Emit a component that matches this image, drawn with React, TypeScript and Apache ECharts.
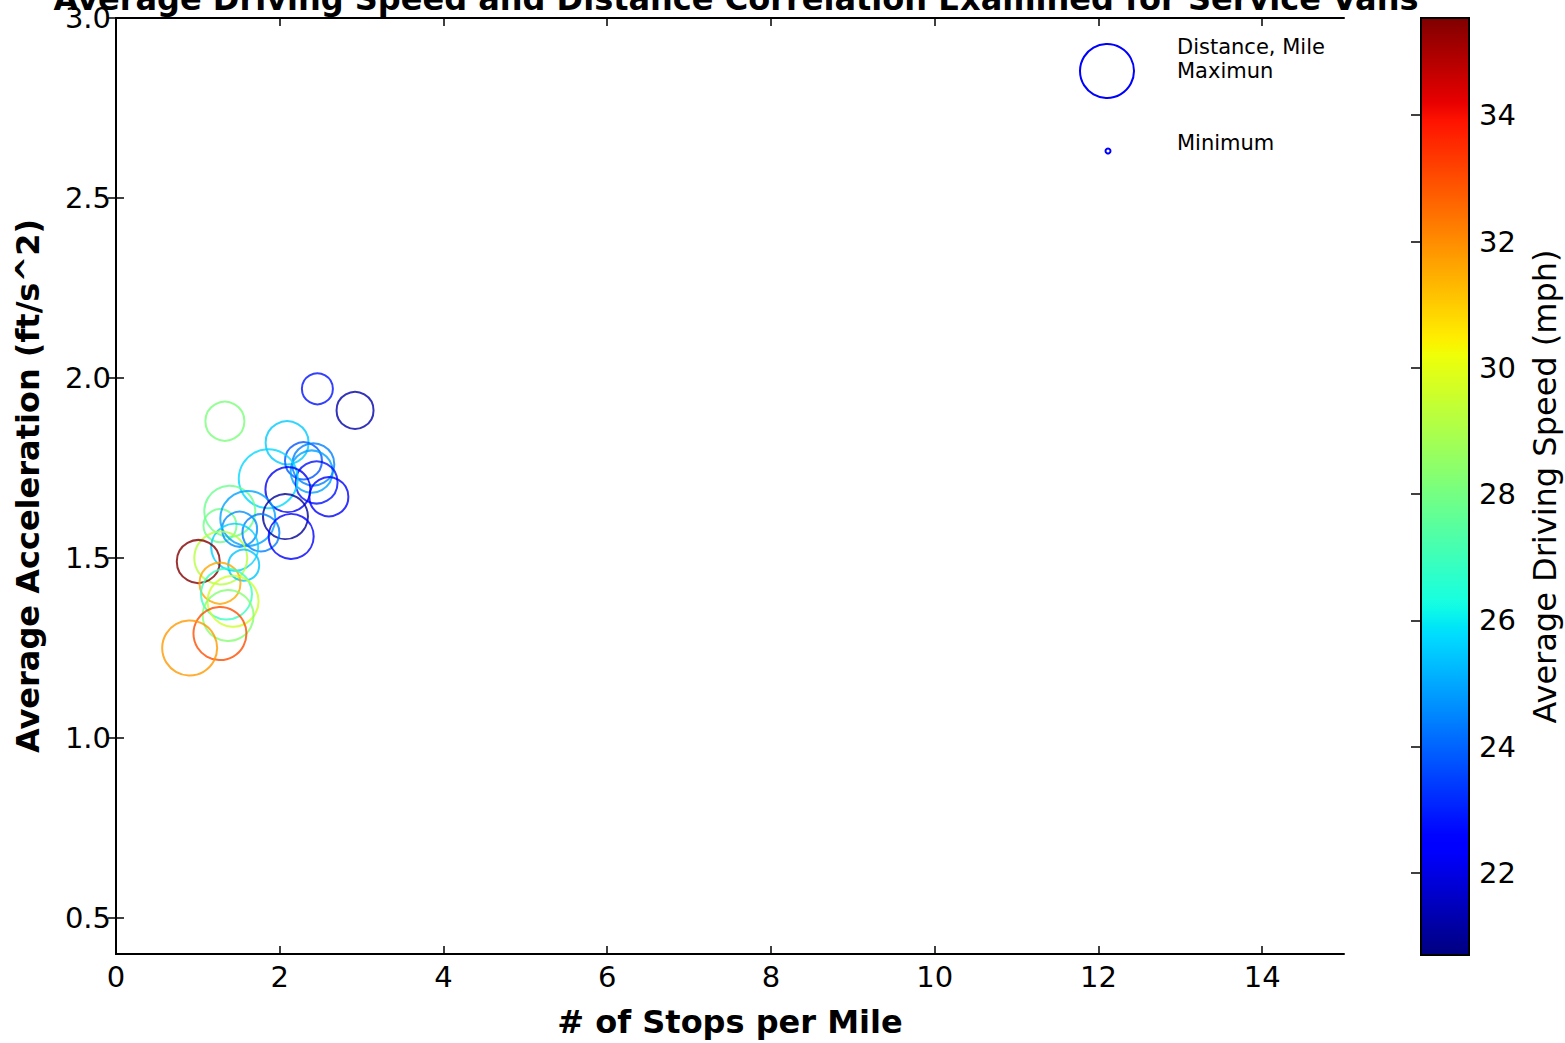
import React, { useEffect, useRef } from "react";
import * as echarts from "echarts";

// ---- data ----
const stopsPerMile = [2.46, 2.92, 1.33, 2.09, 2.29, 2.41, 2.39, 2.45, 2.60, 1.86, 2.10, 1.39, 1.27, 1.61, 2.07, 1.77, 1.51, 2.14, 1.45, 1.28, 1.56, 1.005, 1.27, 1.35, 1.43, 1.37, 1.27, 0.90];
const avgAccel = [1.97, 1.91, 1.88, 1.82, 1.77, 1.76, 1.74, 1.71, 1.67, 1.72, 1.69, 1.63, 1.59, 1.61, 1.615, 1.57, 1.58, 1.56, 1.53, 1.50, 1.48, 1.49, 1.43, 1.40, 1.38, 1.34, 1.29, 1.25];
const avgSpeed = [22.8, 21.2, 28.1, 25.5, 23.8, 24.4, 24.9, 22.8, 22.5, 25.7, 22.2, 27.8, 27.9, 24.9, 21.0, 24.4, 24.6, 22.4, 25.6, 29.2, 25.4, 35.5, 31.6, 26.9, 29.6, 28.3, 33.0, 31.8];
const distanceMiles = [62, 74, 78, 86, 74, 84, 84, 84, 78, 118, 90, 102, 66, 110, 90, 74, 70, 90, 94, 106, 62, 86, 82, 102, 102, 102, 106, 110];

const xTicks = [0, 2, 4, 6, 8, 10, 12, 14];
const yTicks = [0.5, 1.0, 1.5, 2.0, 2.5, 3.0];
const cbTicks = [22, 24, 26, 28, 30, 32, 34];
const SPEED_MIN = 20.7;
const SPEED_MAX = 35.54;
const LEGEND_MAX_DIST = 108;
const LEGEND_MIN_DIST = 10;
const SIZE_SCALE = 0.5;

// ---- jet colormap ----
const R = [[0, 0], [0.35, 0], [0.66, 1], [0.89, 1], [1, 0.5]];
const G = [[0, 0], [0.125, 0], [0.375, 1], [0.64, 1], [0.91, 0], [1, 0]];
const B = [[0, 0.5], [0.11, 1], [0.34, 1], [0.65, 0], [1, 0]];
function seg(pts: number[][], t: number) {
  for (let i = 1; i < pts.length; i++) {
    if (t <= pts[i][0]) {
      const [x0, y0] = pts[i - 1];
      const [x1, y1] = pts[i];
      return y0 + ((t - x0) / (x1 - x0)) * (y1 - y0);
    }
  }
  return pts[pts.length - 1][1];
}
function jet(t: number) {
  t = Math.max(0, Math.min(1, t));
  const c = (v: number) => Math.round(v * 255);
  return `rgb(${c(seg(R, t))},${c(seg(G, t))},${c(seg(B, t))})`;
}
const speedColor = (s: number) => jet((s - SPEED_MIN) / (SPEED_MAX - SPEED_MIN));

const FONT = "DejaVu Sans";
const GRID = { left: 116, top: 18, width: 1228, height: 937 };
const CB = { left: 1421, top: 18, width: 48, height: 937 };

export default function App() {
  const ref = useRef<HTMLDivElement>(null);
  useEffect(() => {
    if (!ref.current) return;
    const chart = echarts.init(ref.current, null, { renderer: "svg" });

    const data = stopsPerMile.map((x, i) => ({
      value: [x, avgAccel[i], avgSpeed[i], distanceMiles[i]],
      symbolSize: distanceMiles[i] * SIZE_SCALE,
      itemStyle: {
        color: "rgba(0,0,0,0)",
        borderColor: speedColor(avgSpeed[i]),
        borderWidth: 2,
      },
    }));

    const gradStops = [];
    for (let i = 0; i <= 100; i++) gradStops.push({ offset: i / 100, color: jet(i / 100) });

    const axisLine = { show: true, lineStyle: { color: "#000", width: 2 } };
    const tickStyle = { color: "#000", width: 1.5 };
    const labelStyle = { color: "#000", fontSize: 29, fontFamily: FONT };

    const option: any = {
      animation: false,
      backgroundColor: "#fff",
      textStyle: { fontFamily: FONT },
      grid: [
        { ...GRID, containLabel: false },
        { ...CB, containLabel: false },
      ],
      xAxis: [
        {
          gridIndex: 0, type: "value", min: 0, max: 15, interval: 2, position: "bottom",
          name: "# of Stops per Mile", nameLocation: "middle", nameGap: 52,
          nameTextStyle: { fontSize: 32, fontWeight: "bold", color: "#000", fontFamily: FONT },
          axisLine, axisTick: { inside: true, length: 8, lineStyle: tickStyle, customValues: xTicks },
          axisLabel: { ...labelStyle, margin: 8, customValues: xTicks },
          splitLine: { show: false },
        },
        {
          gridIndex: 0, type: "value", min: 0, max: 15, interval: 2, position: "top",
          axisLine, axisTick: { inside: true, length: 8, lineStyle: tickStyle, customValues: xTicks },
          axisLabel: { show: false }, splitLine: { show: false },
        },
        { gridIndex: 1, type: "value", min: 0, max: 1, show: false },
      ],
      yAxis: [
        {
          gridIndex: 0, type: "value", min: 0.4, max: 3.0, position: "left",
          name: "Average Acceleration (ft/s^2)", nameLocation: "middle", nameRotate: 90, nameGap: 72,
          nameTextStyle: { fontSize: 32, fontWeight: "bold", color: "#000", fontFamily: FONT },
          axisLine, axisTick: { inside: true, length: 8, lineStyle: tickStyle, customValues: yTicks },
          axisLabel: { ...labelStyle, margin: 5, customValues: yTicks, formatter: (v: number) => v.toFixed(1) },
          splitLine: { show: false },
        },
        {
          gridIndex: 0, type: "value", min: 0.4, max: 3.0, position: "right",
          axisLine, axisTick: { inside: true, length: 8, lineStyle: tickStyle, customValues: yTicks },
          axisLabel: { show: false }, splitLine: { show: false },
        },
        {
          gridIndex: 1, type: "value", min: SPEED_MIN, max: SPEED_MAX, position: "right", z: 10,
          name: "Average Driving Speed (mph)", nameLocation: "middle", nameRotate: 90, nameGap: 60,
          nameTextStyle: { fontSize: 32, color: "#000", fontFamily: FONT },
          axisLine: { show: false },
          axisTick: { show: true, inside: true, length: 10, lineStyle: tickStyle, customValues: cbTicks },
          axisLabel: { ...labelStyle, margin: 10, customValues: cbTicks },
          splitLine: { show: false },
        },
      ],
      series: [
        {
          type: "scatter", xAxisIndex: 0, yAxisIndex: 0, symbol: "circle",
          data,
        },
      ],
      graphic: [
        {
          type: "text", x: 736, y: 15, z: 10,
          style: {
            text: "Average Driving Speed and Distance Correlation Examined for Service Vans",
            font: `bold 32px "${FONT}"`, fill: "#000", textAlign: "center", textVerticalAlign: "bottom",
          },
        },
        {
          type: "rect", z: 1,
          shape: { x: CB.left, y: CB.top, width: CB.width, height: CB.height },
          style: { fill: new echarts.graphic.LinearGradient(0, 1, 0, 0, gradStops), stroke: "#000", lineWidth: 2 },
        },
        {
          type: "circle", shape: { cx: 1107, cy: 71, r: (LEGEND_MAX_DIST * SIZE_SCALE) / 2 },
          style: { fill: "none", stroke: "#0000ff", lineWidth: 2 },
        },
        {
          type: "circle", shape: { cx: 1108, cy: 151, r: (LEGEND_MIN_DIST * SIZE_SCALE) / 2 },
          style: { fill: "none", stroke: "#0000ff", lineWidth: 2 },
        },
        {
          type: "text", x: 1177, y: 47,
          style: { text: "Distance, Mile", font: `21px "${FONT}"`, fill: "#000", textVerticalAlign: "middle" },
        },
        {
          type: "text", x: 1177, y: 71,
          style: { text: "Maximun", font: `21px "${FONT}"`, fill: "#000", textVerticalAlign: "middle" },
        },
        {
          type: "text", x: 1177, y: 143,
          style: { text: "Minimum", font: `21px "${FONT}"`, fill: "#000", textVerticalAlign: "middle" },
        },
      ],
    };
    chart.setOption(option);
    return () => chart.dispose();
  }, []);
  return (
    <div
      ref={ref}
      style={{ position: "fixed", left: 0, top: 0, width: 1565, height: 1043, background: "#fff" }}
    />
  );
}
